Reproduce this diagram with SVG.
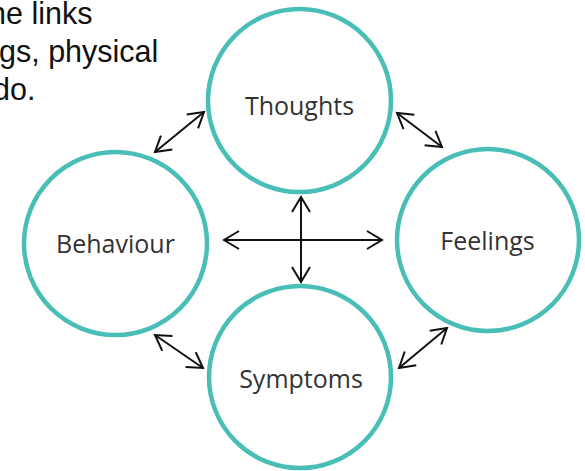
<svg xmlns="http://www.w3.org/2000/svg" width="585" height="471" viewBox="0 0 585 471">
<style>
.node circle{fill:#fff;stroke:#48BEB6;stroke-width:4.5}
.node text{font-family:"Open Sans","Noto Sans",sans-serif;font-size:25px;fill:#333;text-anchor:middle}
.intro{font-family:"Liberation Sans",Arial,sans-serif;font-size:30.5px;fill:#111}
.conn line{stroke:#111;stroke-width:2;marker-start:url(#ah);marker-end:url(#ah)}
</style>
<defs>
<marker id="ah" markerUnits="userSpaceOnUse" orient="auto-start-reverse" refX="0" refY="0" markerWidth="40" markerHeight="40" viewBox="-20 -20 40 40" overflow="visible">
<path d="M-15,-9 L0,0 L-15,9" fill="none" stroke="#111" stroke-width="2"/>
</marker>
</defs>
<rect width="585" height="471" fill="#fff"/>
<g id="intro">
<text class="intro" x="-11" y="24">he links</text>
<text class="intro" x="-1" y="62">gs, physical</text>
<text class="intro" x="-7" y="100">do.</text>
</g>
<g id="thoughts" class="node"><circle cx="299.5" cy="100.5" r="91.5"/><text x="299.5" y="115">Thoughts</text></g>
<g id="behaviour" class="node"><circle cx="115.5" cy="243.5" r="91.5"/><text x="115.5" y="253">Behaviour</text></g>
<g id="feelings" class="node"><circle cx="488" cy="240" r="91"/><text x="487.5" y="250">Feelings</text></g>
<g id="symptoms" class="node"><circle cx="300" cy="377" r="91"/><text x="301" y="388">Symptoms</text></g>
<g id="connectors" class="conn">
<line x1="155" y1="152" x2="204" y2="112"/>
<line x1="397" y1="113" x2="442" y2="147"/>
<line x1="155" y1="335" x2="203" y2="368"/>
<line x1="447" y1="328" x2="399" y2="368"/>
<line x1="224" y1="240" x2="382" y2="240"/>
<line x1="301" y1="197" x2="301" y2="282"/>
</g>
</svg>
